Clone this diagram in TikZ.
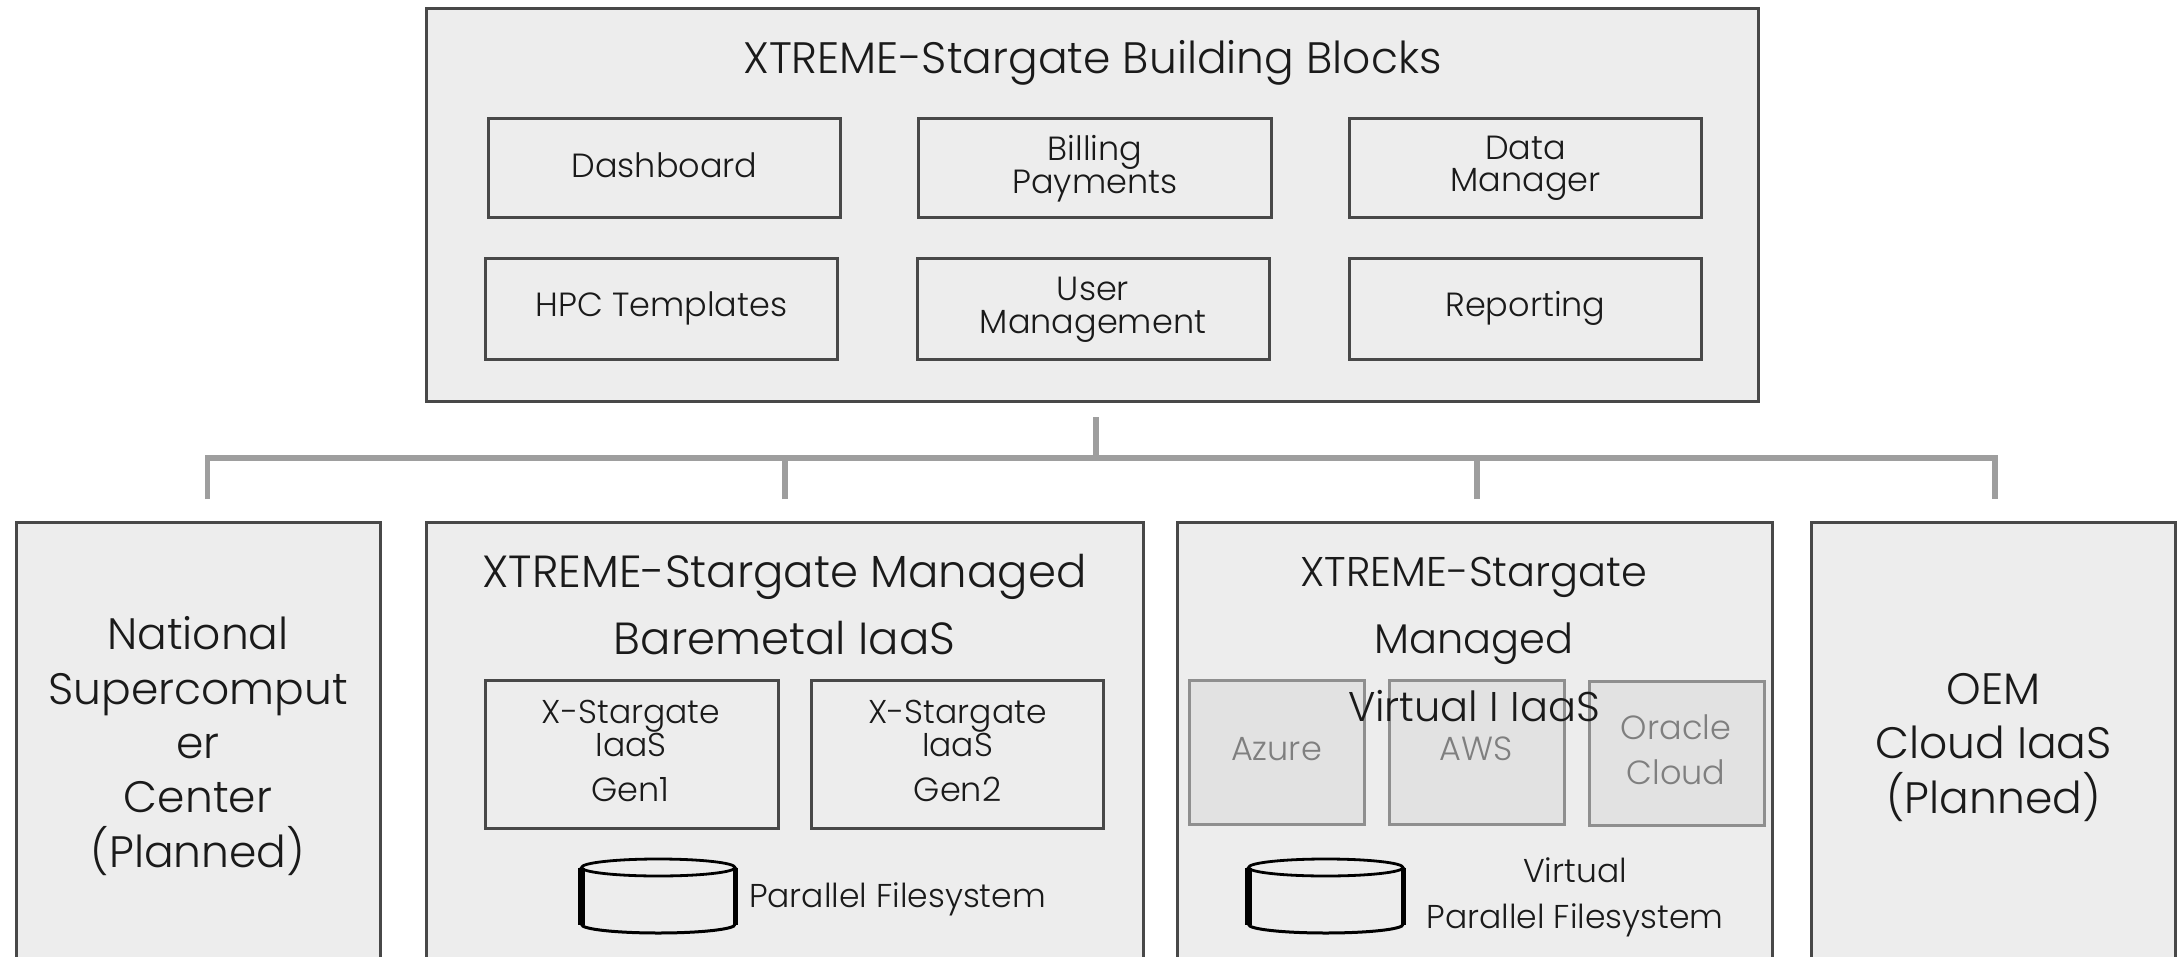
\documentclass[tikz,border=0pt]{standalone}
\usepackage{fontspec}
\setmainfont{Poppins}[UprightFont=* Light]
\usetikzlibrary{calc}
\definecolor{panel}{HTML}{EDEDED}
\definecolor{edge}{HTML}{484848}
\definecolor{bus}{HTML}{9E9E9E}
\definecolor{ghost}{HTML}{E2E2E2}
\definecolor{ghostedge}{HTML}{8F8F8F}
\definecolor{ghosttext}{HTML}{7F7F7F}
\definecolor{ink}{HTML}{1A1A1A}
\newcommand{\bx}[6]{%
  \pgfmathsetmacro{\bxcx}{(#3+#5)/2}\pgfmathsetmacro{\bxcy}{(#4+#6)/2}%
  \pgfmathsetmacro{\bxw}{#5-#3}\pgfmathsetmacro{\bxh}{#6-#4}%
  \node[#2,minimum width=\bxw pt,minimum height=\bxh pt] (#1) at (\bxcx,\bxcy) {};}
\newcommand{\cyl}[4]{% outer x0 x1 ytop ybottom
  \pgfmathsetmacro{\xa}{#1+3.5}\pgfmathsetmacro{\xb}{#2-2.5}%
  \pgfmathsetmacro{\xm}{(\xa+\xb)/2}\pgfmathsetmacro{\xr}{(\xb-\xa)/2}%
  \pgfmathsetmacro{\ya}{#3+8.5}\pgfmathsetmacro{\yb}{#4-8.5}%
  \draw[black,line width=2.8pt] (\xm,\ya) ellipse[x radius=\xr pt,y radius=8.5pt];
  \draw[black,line width=7.5pt] (\xa,\ya) -- (\xa,\yb);
  \draw[black,line width=5pt] (\xb,\ya) -- (\xb,\yb);
  \draw[black,line width=3pt] (\xa,\yb) arc[start angle=180,end angle=360,x radius=\xr pt,y radius=8.5pt];}
\tikzset{
  panelbox/.style={draw=edge,fill=panel,line width=3pt,inner sep=0pt,outer sep=0pt},
  ghostbox/.style={draw=ghostedge,fill=ghost,line width=3pt,inner sep=0pt,outer sep=0pt},
  bigtext/.style={text=ink,align=center,inner sep=0pt,font=\fontsize{44}{67}\selectfont},
  midtext/.style={text=ink,align=center,inner sep=0pt,font=\fontsize{44}{54.3}\selectfont},
  smalltext/.style={text=ink,align=center,inner sep=0pt,font=\fontsize{33.5}{32.5}\selectfont},
  ghosttxt/.style={text=ghosttext,align=center,inner sep=0pt,font=\fontsize{33.5}{45.5}\selectfont},
  wire/.style={draw=bus,line width=5.5pt}
}
\begin{document}
\begin{tikzpicture}[x=1pt,y=-1pt]
\useasboundingbox (0,0) rectangle (2183,957);
\clip (0,0) rectangle (2183,957);
\fill[white] (0,0) rectangle (2183,957);
% top panel
\bx{top}{panelbox}{426}{8.5}{1758}{401}
\node[bigtext] (topT) at (1092.5,62.5) {XTREME-Stargate Building Blocks};
\bx{dash}{panelbox}{488}{119}{840}{218}
\bx{bill}{panelbox}{918.5}{119}{1271}{218}
\bx{data}{panelbox}{1349.5}{119}{1701}{218}
\bx{hpc}{panelbox}{485}{259}{837}{359}
\bx{user}{panelbox}{917}{259}{1269}{359}
\bx{rep}{panelbox}{1349.5}{259}{1701}{359}
\node[smalltext] (dashT) at (664.5,165) {Dashboard};
\node[smalltext] (billT) at (1095,168.5) {Billing\\Payments};
\node[smalltext] (dataT) at (1525.5,168.5) {Data\\Manager};
\node[smalltext] (hpcT) at (661.5,308) {HPC Templates};
\node[smalltext] (userT) at (1093,310) {User\\Management};
\node[smalltext] (repT) at (1525.5,308) {Reporting};
% bottom panels
\bx{nat}{panelbox}{16}{522}{380}{1010}
\bx{bare}{panelbox}{426}{522}{1143}{1010}
\bx{virt}{panelbox}{1177}{522}{1772}{1010}
\bx{oem}{panelbox}{1811}{522}{2175}{1010}
% connectors
\coordinate (stemtop) at (1096,417);
\coordinate (stembot) at (1096,458);
\coordinate (busl) at (207.5,458);
\coordinate (busr) at (1995,458);
\coordinate (d1) at (207.5,499);
\coordinate (d2) at (785,499);
\coordinate (d3) at (1477,499);
\coordinate (d4) at (1995,499);
\draw[wire] (stemtop) -- (stembot);
\draw[wire] (d1) -- (busl) -- (busr) -- (d4);
\draw[wire] (d2) -- (d2 |- busl);
\draw[wire] (d3) -- (d3 |- busl);
% bottom panel texts
\node[midtext] (natT) at (198,746) {National\\Supercomput\\er\\Center\\(Planned)};
\node[midtext] (oemT) at (1993.5,747.5) {OEM\\Cloud IaaS\\(Planned)};
\bx{g1}{panelbox}{485}{680}{778}{828}
\bx{g2}{panelbox}{811}{680}{1103}{828}
\node[smalltext,font=\fontsize{33}{31}\selectfont] (g1T) at (631,728.5) {X-Stargate\\IaaS};
\node[smalltext,font=\fontsize{33}{31}\selectfont] (g2T) at (957.5,728.5) {X-Stargate\\IaaS};
\node[smalltext] (g1U) at (630.5,789.5) {Gen1};
\node[smalltext] (g2U) at (957.5,789.5) {Gen2};
\bx{az}{ghostbox}{1189}{680}{1364}{824}
\bx{aws}{ghostbox}{1389}{680}{1564}{824}
\bx{ora}{ghostbox}{1589}{681}{1764}{825}
\node[ghosttxt] (azT) at (1276.5,749) {Azure};
\node[ghosttxt] (awsT) at (1476,749) {AWS};
\node[ghosttxt] (oraT) at (1676,749.5) {Oracle\\Cloud};
\node[bigtext,font=\fontsize{45}{67}\selectfont] (bareT) at (784.5,604.5) {XTREME-Stargate Managed\\Baremetal IaaS};
\node[bigtext,font=\fontsize{41.5}{67.5}\selectfont] (virtT) at (1474,639.5) {XTREME-Stargate\\Managed\\Virtual I IaaS};
\cyl{578}{737.5}{859}{933}
\cyl{1245}{1405.5}{859}{933}
\node[smalltext,font=\fontsize{33}{32.5}\selectfont] (pfsT) at (897.5,899.5) {Parallel Filesystem};
\node[smalltext,font=\fontsize{33}{46}\selectfont] (vpfsT) at (1575,897.5) {Virtual\\Parallel Filesystem};
\end{tikzpicture}
\end{document}
